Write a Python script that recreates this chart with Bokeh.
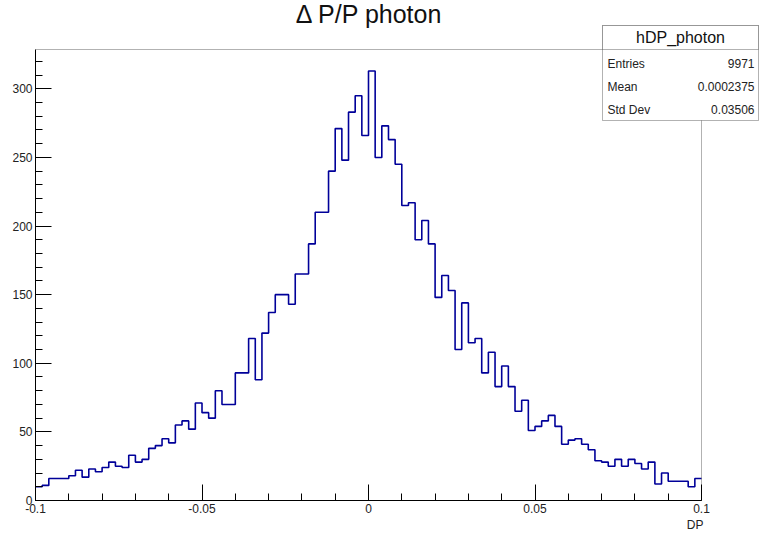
import numpy as np
from bokeh.plotting import figure
from bokeh.models import Range1d, FixedTicker, Label, BoxAnnotation, Title
from bokeh.embed import file_html
from bokeh.resources import INLINE

# ---- data ----
counts = [10, 11, 16, 16, 16, 18, 22, 17, 23, 21,
          24, 28, 25, 24, 33, 28, 30, 38, 40, 45,
          42, 55, 58, 52, 71, 64, 60, 80, 70, 70,
          93, 93, 118, 88, 122, 137, 150, 150, 143, 165,
          165, 187, 210, 210, 240, 271, 248, 283, 295, 266,
          313, 250, 273, 263, 245, 215, 217, 190, 204, 187,
          148, 164, 153, 110, 144, 115, 118, 93, 108, 83,
          98, 83, 65, 73, 51, 54, 58, 62, 54, 41,
          44, 45, 41, 37, 29, 28, 25, 30, 25, 30,
          27, 23, 28, 12, 20, 14, 14, 14, 10, 16]
x_lo, x_hi = -0.1, 0.1
y_max = 328.65

hist_name = "hDP_photon"
stat_names = ["Entries", "Mean", "Std Dev"]
stat_values = ["9971", "0.0002375", "0.03506"]
title_text = "\u0394 P/P photon"
x_label = "DP"

x_ticks = [-0.1, -0.05, 0.0, 0.05, 0.1]
x_tick_labels = ["-0.1", "-0.05", "0", "0.05", "0.1"]
x_minor = [round(-0.1 + 0.01 * k, 3) for k in range(21)]
y_ticks = [0, 50, 100, 150, 200, 250, 300]
y_minor = list(range(0, 330, 10))

edges = np.linspace(x_lo, x_hi, len(counts) + 1)

# ---- layout (pixels in the figure canvas) ----
FONT = "Liberation Sans"
W, H = 759, 533
AX_L, AX_R = 35, 701      # x of x_lo / x_hi
AX_B, AX_T = 500, 49      # y of 0 / y_max
FRAME_R, FRAME_T = W, 0   # plot frame extends to the canvas edge (for the stats box / title)
sx = (AX_R - AX_L) / (x_hi - x_lo)
sy = (AX_B - AX_T) / y_max
x_end = x_hi + (FRAME_R - AX_R) / sx
y_end = y_max + (AX_T - FRAME_T) / sy


def fx(px):
    return x_lo + (px - AX_L) / sx


def fy(py):
    return (AX_B - py) / sy


p = figure(width=W, height=H, x_range=Range1d(x_lo, x_end), y_range=Range1d(0, y_end),
           output_backend="svg", toolbar_location=None, title=None,
           min_border_left=AX_L, min_border_right=W - FRAME_R, min_border_top=FRAME_T,
           min_border_bottom=H - AX_B)
p.background_fill_color = "white"
p.border_fill_color = "white"
p.outline_line_color = None
p.grid.visible = False

p.step(x=list(edges), y=list(counts) + [counts[-1]], mode="after",
       line_color="#000099", line_width=1.6)

# ROOT-style frame around the histogram area
p.add_layout(BoxAnnotation(left=x_lo, right=x_hi, bottom=0, top=y_max,
                           fill_alpha=0, line_color="black", line_width=1))

xa = p.xaxis[0]
xa.ticker = FixedTicker(ticks=x_ticks, minor_ticks=x_minor)
xa.major_label_overrides = {t: l for t, l in zip(x_ticks, x_tick_labels)}
xa.bounds = (x_lo, x_hi)
ya = p.yaxis[0]
ya.ticker = FixedTicker(ticks=y_ticks, minor_ticks=y_minor)
ya.bounds = (0, y_max)
for ax in (xa, ya):
    ax.axis_line_color = "black"
    ax.major_tick_line_color = "black"
    ax.minor_tick_line_color = "black"
    ax.major_tick_out = 0
    ax.minor_tick_out = 0
    ax.major_tick_in = 16
    ax.minor_tick_in = 7
    ax.major_label_text_font = FONT
    ax.major_label_text_font_size = "12px"
    ax.major_label_text_color = "#222222"
xa.major_label_standoff = 3
ya.major_label_standoff = 3

# x-axis title at the right end, below the tick labels
t = Title(text=x_label, align="right", text_font=FONT, text_font_size="12px",
          text_font_style="normal", text_color="#222222")
t.offset = FRAME_R - AX_R - 2
if hasattr(t, "standoff"):
    t.standoff = 0
p.add_layout(t, "below")

# histogram title
p.add_layout(Label(x=fx(369), y=fy(13), text=title_text, text_font=FONT, text_font_size="25px",
                   text_align="center", text_baseline="middle", text_color="#111111"))

# stats box
bl, br, bt, bb, bh = fx(602), fx(758), fy(25), fy(120), fy(49)
p.add_layout(BoxAnnotation(left=bl, right=br, bottom=bb, top=bt,
                           fill_color="white", fill_alpha=1.0, line_color="black",
                           line_width=1, level="overlay"))
p.add_layout(BoxAnnotation(left=bl, right=br, bottom=bh, top=bt,
                           fill_color="white", fill_alpha=1.0, line_color="black",
                           line_width=1, level="overlay"))
p.add_layout(Label(x=(bl + br) / 2, y=fy(37), text=hist_name, text_font=FONT,
                   text_font_size="16px", text_align="center", text_baseline="middle",
                   text_color="#111111", level="overlay"))
for name, val, py in zip(stat_names, stat_values, [63, 86, 109]):
    p.add_layout(Label(x=fx(607), y=fy(py), text=name, text_font=FONT, text_font_size="12px",
                       text_align="left", text_baseline="middle", text_color="#222222",
                       level="overlay"))
    p.add_layout(Label(x=fx(754), y=fy(py), text=val, text_font=FONT, text_font_size="12px",
                       text_align="right", text_baseline="middle", text_color="#222222",
                       level="overlay"))

open("out.html", "w").write(file_html(p, INLINE))
